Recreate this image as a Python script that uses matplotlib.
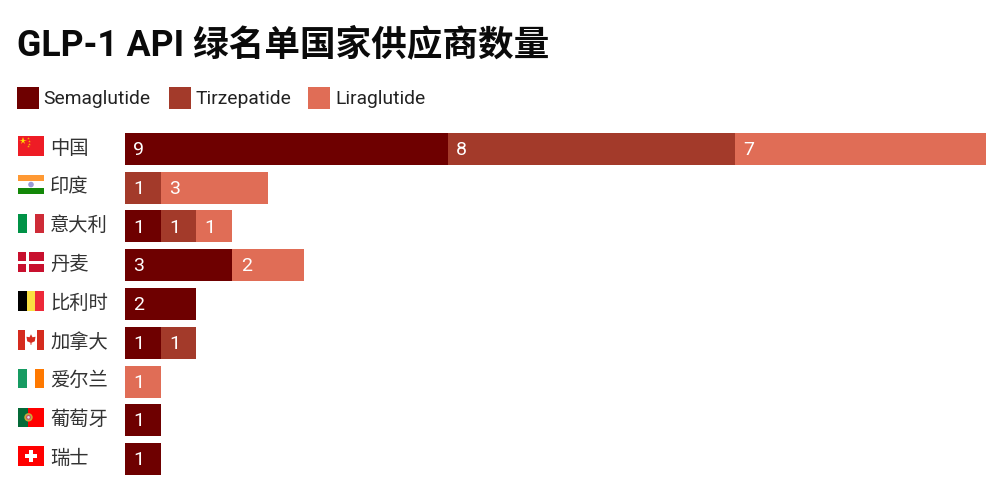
import matplotlib
matplotlib.use('Agg')
import matplotlib.pyplot as plt
from matplotlib.patches import Rectangle, Circle, Polygon
import numpy as np

plt.rcParams['font.family'] = ['Roboto', 'Noto Sans CJK SC', 'DejaVu Sans']

countries = ['中国', '印度', '意大利', '丹麦', '比利时', '加拿大', '爱尔兰', '葡萄牙', '瑞士']
flag_codes = ['cn', 'in', 'it', 'dk', 'be', 'ca', 'ie', 'pt', 'ch']
series_names = ['Semaglutide', 'Tirzepatide', 'Liraglutide']
semaglutide = [9, 0, 1, 3, 2, 1, 0, 1, 1]
tirzepatide = [8, 1, 1, 0, 0, 1, 0, 0, 0]
liraglutide = [7, 3, 1, 2, 0, 0, 1, 0, 0]
colors = ['#6e0000', '#a33a2a', '#e06d56']
title = 'GLP-1 API 绿名单国家供应商数量'

W, H = 1004, 493
fig = plt.figure(figsize=(W / 100, H / 100), dpi=100, facecolor='white')

# Bars
top, bottom = 129.6, 478.4
x_left, x_right = 124.7, 986.0
ax = fig.add_axes([x_left / W, 1 - bottom / H, (x_right - x_left) / W, (bottom - top) / H])
ax.set_xlim(0, 24)
ax.set_ylim(len(countries) - 0.5, -0.5)
ax.axis('off')
y = np.arange(len(countries))
left = np.zeros(len(countries))
for vals, c in zip([semaglutide, tirzepatide, liraglutide], colors):
    vals = np.array(vals)
    ax.barh(y, vals, left=left, height=0.826, color=c, linewidth=0)
    for i, v in enumerate(vals):
        if v > 0:
            ax.annotate(str(v), (left[i], i), xytext=(6, -0.8), textcoords='offset points',
                        color='white', fontsize=14, va='center', ha='left')
    left += vals

# Overlay in pixel coordinates for title, legend and flags
ov = fig.add_axes([0, 0, 1, 1])
ov.set_xlim(0, W)
ov.set_ylim(H, 0)
ov.axis('off')
ov.patch.set_alpha(0)

ov.text(17, 45.5, title, fontsize=25.7, fontweight='bold', color='#0a0a0a', va='center', ha='left')

leg_x = [17, 169, 308.5]
for x0, name, c in zip(leg_x, series_names, colors):
    ov.add_patch(Rectangle((x0, 87), 22, 22, color=c, lw=0))
    ov.text(x0 + 26.5, 98.5, name, fontsize=13.9, color='#222222', va='center', ha='left')


def stripes_v(x, y, w, h, cols, fracs=None):
    fracs = fracs or [1 / len(cols)] * len(cols)
    p = x
    for c, f in zip(cols, fracs):
        ov.add_patch(Rectangle((p, y), w * f, h, color=c, lw=0))
        p += w * f


def stripes_h(x, y, w, h, cols):
    for i, c in enumerate(cols):
        ov.add_patch(Rectangle((x, y + i * h / len(cols)), w, h / len(cols), color=c, lw=0))


def flag(code, x, y, w=26, h=19.5):
    if code == 'cn':
        ov.add_patch(Rectangle((x, y), w, h, color='#ee1c25', lw=0))
        ov.plot([x + 5], [y + 5], marker='*', ms=5.5, color='#ffde00', mew=0)
        for dx, dy in [(10, 2), (11.5, 4.5), (11.5, 7.5), (10, 9.5)]:
            ov.plot([x + dx], [y + dy], marker='*', ms=2.0, color='#f7b500', mew=0)
    elif code == 'in':
        stripes_h(x, y, w, h, ['#ff9933', '#ffffff', '#138808'])
        ov.add_patch(Circle((x + w / 2, y + h / 2), 2.8, color='#9a9ad6', lw=0))
    elif code == 'it':
        stripes_v(x, y, w, h, ['#009246', '#ffffff', '#ce2b37'])
    elif code == 'dk':
        ov.add_patch(Rectangle((x, y), w, h, color='#c8102e', lw=0))
        ov.add_patch(Rectangle((x + 8.2, y), 2.8, h, color='white', lw=0))
        ov.add_patch(Rectangle((x, y + h / 2 - 1.4), w, 2.8, color='white', lw=0))
    elif code == 'be':
        stripes_v(x, y, w, h, ['#000000', '#fae042', '#ed2939'])
    elif code == 'ca':
        stripes_v(x, y, w, h, ['#d52b1e', '#ffffff', '#d52b1e'], [0.26, 0.48, 0.26])
        cx, cy = x + w / 2, y + h / 2
        ov.add_patch(Polygon([(cx, cy - 5.5), (cx + 1.5, cy - 2.5), (cx + 4.5, cy - 3), (cx + 3.8, cy + 1.5),
                              (cx + 0.5, cy + 3), (cx + 0.5, cy + 5), (cx - 0.5, cy + 5), (cx - 0.5, cy + 3),
                              (cx - 3.8, cy + 1.5), (cx - 4.5, cy - 3), (cx - 1.5, cy - 2.5)],
                             color='#d52b1e', lw=0))
    elif code == 'ie':
        stripes_v(x, y, w, h, ['#169b62', '#ffffff', '#ff7900'])
    elif code == 'pt':
        stripes_v(x, y, w, h, ['#046a38', '#ff0000'], [0.4, 0.6])
        ov.add_patch(Circle((x + 10.5, y + h / 2), 4.2, color='#c8a93a', lw=0))
        ov.add_patch(Circle((x + 10.5, y + h / 2), 2.5, color='#c9506a', lw=0))
        ov.add_patch(Circle((x + 10.5, y + h / 2), 1.3, color='#dfe3f2', lw=0))
    elif code == 'ch':
        ov.add_patch(Rectangle((x, y), w, h, color='#ff0000', lw=0))
        cx, cy = x + w / 2, y + h / 2
        ov.add_patch(Rectangle((cx - 6, cy - 2), 12, 4, color='white', lw=0))
        ov.add_patch(Rectangle((cx - 2, cy - 6), 4, 12, color='white', lw=0))


row0, pitch = 146.0, 38.8
for i, (name, code) in enumerate(zip(countries, flag_codes)):
    yc = row0 + i * pitch
    flag(code, 18, yc - 10)
    ov.text(50.2, yc + 2.2, name, fontsize=13.9, color='#333333', va='center', ha='left',
            family=['Noto Sans CJK SC', 'DejaVu Sans'])

fig.savefig('out.png', dpi=100, facecolor='white')
